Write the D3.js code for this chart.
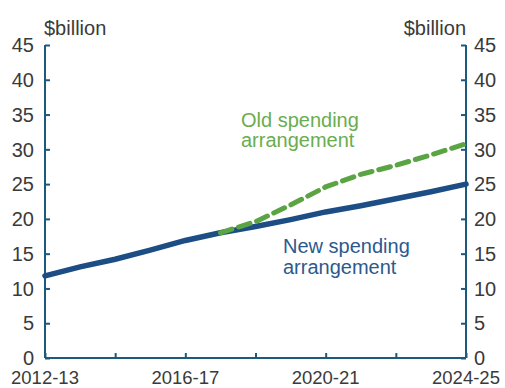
<!DOCTYPE html>
<html>
<head>
<meta charset="utf-8">
<script src="https://cdn.jsdelivr.net/npm/d3@7"></script>
<style>
  body { margin: 0; background: #fff; }
  text { font-family: "Liberation Sans", Arial, sans-serif; }
</style>
</head>
<body>
<div id="chart"></div>
<script>
// Financial years on the x axis
const years = ["2012-13", "2013-14", "2014-15", "2015-16", "2016-17", "2017-18", "2018-19",
  "2019-20", "2020-21", "2021-22", "2022-23", "2023-24", "2024-25"];

// New spending arrangement ($billion)
const newSpending = [11.8, 13.1, 14.2, 15.5, 16.9, 18.0, 18.9, 19.9, 21.0, 21.9, 22.9, 23.9, 25.0];

// Old spending arrangement ($billion), diverges from 2017-18
const oldYears = ["2017-18", "2018-19", "2019-20", "2020-21", "2021-22", "2022-23", "2023-24", "2024-25"];
const oldSpending = [18.0, 19.6, 22.0, 24.6, 26.4, 27.7, 29.2, 30.8];

// Axis ticks
const yTicks = [0, 5, 10, 15, 20, 25, 30, 35, 40, 45];
const xTickYears = ["2012-13", "2014-15", "2016-17", "2018-19", "2020-21", "2022-23", "2024-25"];
const xLabelYears = ["2012-13", "2016-17", "2020-21", "2024-25"];

const W = 505, H = 388;
const margin = { top: 45, right: 39, bottom: 30, left: 45 };
const width = W - margin.left - margin.right;
const height = H - margin.top - margin.bottom;

const axisColor = "#1b5a7c";
const textColor = "#3a3a3a";
const blue = "#1c4d84";
const green = "#5ba443";

const svg = d3.select("#chart")
  .append("svg")
  .attr("width", W)
  .attr("height", H);

const g = svg.append("g")
  .attr("transform", `translate(${margin.left},${margin.top})`);

const x = d3.scalePoint()
  .domain(years)
  .range([0, width]);

const y = d3.scaleLinear()
  .domain([0, 45])
  .range([height, 0]);

// Axes: ticks point inwards
const left = g.append("g")
  .call(d3.axisRight(y).tickValues(yTicks).tickSize(5).tickFormat(""));
const right = g.append("g")
  .attr("transform", `translate(${width},0)`)
  .call(d3.axisLeft(y).tickValues(yTicks).tickSize(5).tickFormat(""));
const bottom = g.append("g")
  .attr("transform", `translate(0,${height})`)
  .call(d3.axisTop(x).tickValues(xTickYears).tickSize(5).tickFormat(""));

[left, right, bottom].forEach(a => {
  a.select(".domain").attr("stroke", axisColor).attr("stroke-width", 2);
  a.selectAll(".tick line").attr("stroke", axisColor).attr("stroke-width", 2);
});
// remove outer tick stubs from the domain paths
left.select(".domain").attr("d", `M0,0V${height}`);
right.select(".domain").attr("d", `M0,0V${height}`);
bottom.select(".domain").attr("d", `M0,0H${width}`);

// Tick labels
g.selectAll(".ylab-left")
  .data(yTicks)
  .join("text")
  .attr("x", -11)
  .attr("y", d => y(d))
  .attr("dy", "0.36em")
  .attr("text-anchor", "end")
  .attr("font-size", 20)
  .attr("fill", textColor)
  .text(d => d);

g.selectAll(".ylab-right")
  .data(yTicks)
  .join("text")
  .attr("x", width + 8)
  .attr("y", d => y(d))
  .attr("dy", "0.36em")
  .attr("text-anchor", "start")
  .attr("font-size", 20)
  .attr("fill", textColor)
  .text(d => d);

g.selectAll(".xlab")
  .data(xLabelYears)
  .join("text")
  .attr("x", d => x(d))
  .attr("y", height + 26)
  .attr("text-anchor", "middle")
  .attr("font-size", 18.5)
  .attr("fill", textColor)
  .text(d => d);

// Unit labels
g.append("text")
  .attr("x", -1)
  .attr("y", -10)
  .attr("font-size", 20)
  .attr("fill", textColor)
  .text("$billion");

g.append("text")
  .attr("x", width)
  .attr("y", -10)
  .attr("text-anchor", "end")
  .attr("font-size", 20)
  .attr("fill", textColor)
  .text("$billion");

// Lines
const line = d3.line()
  .x(d => x(d[0]))
  .y(d => y(d[1]));

g.append("path")
  .datum(years.map((yr, i) => [yr, newSpending[i]]))
  .attr("d", line)
  .attr("fill", "none")
  .attr("stroke", blue)
  .attr("stroke-width", 5.5)
  .attr("stroke-linecap", "round");

g.append("path")
  .datum(oldYears.map((yr, i) => [yr, oldSpending[i]]))
  .attr("d", line)
  .attr("fill", "none")
  .attr("stroke", green)
  .attr("stroke-width", 5)
  .attr("stroke-dasharray", "12,7")
  .attr("stroke-linecap", "round");

// Annotations
const oldLabel = g.append("text")
  .attr("font-size", 20)
  .attr("fill", "#6aad4f");
oldLabel.append("tspan").attr("x", 196).attr("y", 82).text("Old spending");
oldLabel.append("tspan").attr("x", 196).attr("y", 102).text("arrangement");

const newLabel = g.append("text")
  .attr("font-size", 20)
  .attr("fill", "#2b5a8e");
newLabel.append("tspan").attr("x", 238).attr("y", 208).text("New spending");
newLabel.append("tspan").attr("x", 238).attr("y", 229).text("arrangement");
</script>
</body>
</html>
